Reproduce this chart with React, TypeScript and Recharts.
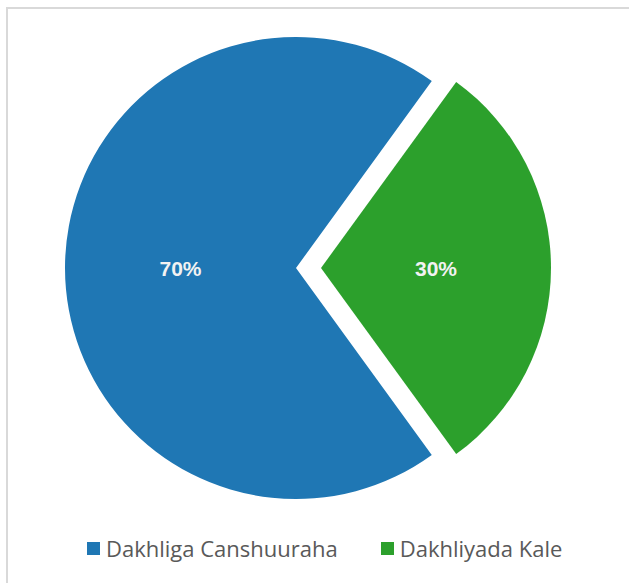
import React from "react";
import { PieChart, Pie, Cell } from "recharts";

const categories = ["Dakhliga Canshuuraha", "Dakhliyada Kale"];
const values = [70, 30];
const colors = ["#1f77b4", "#2ca02c"];

const data = categories.map((name, i) => ({ name, value: values[i] }));
const RADIAN = Math.PI / 180;

const makeLabel = (showIndex: number) => (props: any) => {
  const { cx, cy, midAngle, outerRadius, percent, index } = props;
  if (index !== showIndex) return null;
  const r = outerRadius * 0.5;
  const x = cx + r * Math.cos(-midAngle * RADIAN);
  const y = cy + r * Math.sin(-midAngle * RADIAN);
  return (
    <text
      x={x}
      y={y}
      fill="#f2f2f2"
      textAnchor="middle"
      dominantBaseline="central"
      fontFamily="'Liberation Sans', Arial, sans-serif"
      fontWeight="bold"
      fontSize={21}
    >
      {`${Math.round(percent * 100)}%`}
    </text>
  );
};

export default function App() {
  return (
    <div style={{ position: "absolute", left: 0, top: 0, width: 629, height: 583, background: "#fff", overflow: "hidden" }}>
      <div
        style={{
          position: "absolute",
          left: 6,
          top: 7,
          width: 640,
          height: 600,
          border: "2px solid #d9d9d9",
          boxSizing: "border-box",
        }}
      />
      <div style={{ position: "absolute", left: 0, top: 0 }}>
        <PieChart width={629} height={583} margin={{ top: 0, right: 0, bottom: 0, left: 0 }}>
          <Pie
            data={data}
            dataKey="value"
            nameKey="name"
            cx={296}
            cy={268}
            outerRadius={231}
            startAngle={54}
            endAngle={414}
            stroke="none"
            labelLine={false}
            label={makeLabel(0)}
            isAnimationActive={false}
          >
            {data.map((d, i) => (
              <Cell key={d.name} fill={i === 0 ? colors[i] : "transparent"} />
            ))}
          </Pie>
          <Pie
            data={data}
            dataKey="value"
            nameKey="name"
            cx={321}
            cy={268}
            outerRadius={230}
            startAngle={54}
            endAngle={414}
            stroke="none"
            labelLine={false}
            label={makeLabel(1)}
            isAnimationActive={false}
          >
            {data.map((d, i) => (
              <Cell key={d.name} fill={i === 1 ? colors[i] : "transparent"} />
            ))}
          </Pie>
        </PieChart>
      </div>
      <div
        style={{
          position: "absolute",
          left: 87,
          top: 533,
          display: "flex",
          alignItems: "center",
          fontFamily: "'Open Sans', sans-serif",
          fontSize: 22,
          color: "#595959",
          whiteSpace: "nowrap",
          gap: 43,
        }}
      >
        {categories.map((c, i) => (
          <div key={c} style={{ display: "flex", alignItems: "center" }}>
            <span
              style={{
                display: "inline-block",
                width: 13,
                height: 13,
                background: colors[i],
                marginRight: 6,
              }}
            />
            <span>{c}</span>
          </div>
        ))}
      </div>
    </div>
  );
}
